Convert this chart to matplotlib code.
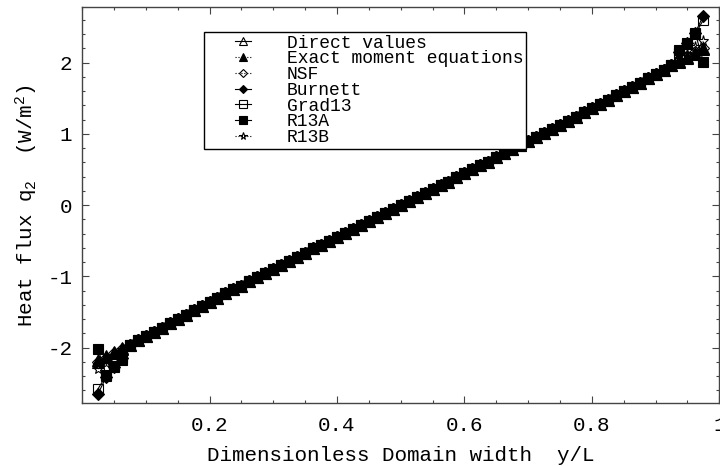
import matplotlib
matplotlib.use("Agg")
import matplotlib.pyplot as plt
from matplotlib.lines import Line2D
from matplotlib.legend_handler import HandlerLine2D
from matplotlib.ticker import MultipleLocator

plt.rcParams['font.family'] = ['Liberation Mono', 'DejaVu Sans Mono']
plt.rcParams['axes.unicode_minus'] = False

# grid points across the channel (y/L)
x = [0.025 + 0.0125 * k for k in range(77)]

# heat flux in the bulk of the channel
q_bulk = [-2.21, -2.15, -2.08, -2.02, -1.96, -1.90, -1.84, -1.78, -1.72, -1.66,
          -1.60, -1.54, -1.48, -1.42, -1.36, -1.30, -1.24, -1.18, -1.13, -1.07,
          -1.01, -0.95, -0.90, -0.84, -0.78, -0.73, -0.67, -0.61, -0.56, -0.50,
          -0.45, -0.39, -0.33, -0.28, -0.22, -0.17, -0.11, -0.06, 0.00, 0.06,
          0.11, 0.17, 0.22, 0.28, 0.33, 0.39, 0.45, 0.50, 0.56, 0.61,
          0.67, 0.73, 0.78, 0.84, 0.90, 0.95, 1.01, 1.07, 1.13, 1.18,
          1.24, 1.30, 1.36, 1.42, 1.48, 1.54, 1.60, 1.66, 1.72, 1.78,
          1.84, 1.90, 1.96, 2.02, 2.08, 2.15, 2.21]

# values at the four points next to each wall (left wall, right wall)
direct_left, direct_right = [-2.20, -2.14, -2.08, -2.02], [2.02, 2.08, 2.14, 2.20]
exact_left, exact_right = [-2.17, -2.12, -2.06, -2.01], [2.01, 2.06, 2.12, 2.19]
nsf_left, nsf_right = [-2.21, -2.15, -2.08, -2.02], [2.02, 2.08, 2.15, 2.21]
burnett_left, burnett_right = [-2.65, -2.42, -2.27, -2.15], [2.15, 2.27, 2.42, 2.66]
grad13_left, grad13_right = [-2.58, -2.40, -2.26, -2.14], [2.14, 2.26, 2.40, 2.60]
r13a_left, r13a_right = [-2.02, -2.38, -2.27, -2.17], [2.17, 2.27, 2.41, 2.01]
r13b_left, r13b_right = [-2.30, -2.22, -2.12, -2.04], [2.04, 2.12, 2.22, 2.30]

labels = ["Direct values", "Exact moment equations", "NSF", "Burnett",
          "Grad13", "R13A", "R13B"]


def profile(left, right):
    return left + q_bulk[4:-4] + right


series = [
    (profile(direct_left, direct_right), '^', 'none', '-', 8.5),
    (profile(exact_left, exact_right), '^', 'k', ':', 8.5),
    (profile(nsf_left, nsf_right), 'D', 'none', ':', 6.0),
    (profile(burnett_left, burnett_right), 'D', 'k', '-', 6.0),
    (profile(grad13_left, grad13_right), 's', 'none', '-', 7.5),
    (profile(r13a_left, r13a_right), 's', 'k', '-', 7.5),
    (profile(r13b_left, r13b_right), '*', 'none', ':', 8.0),
]

fig = plt.figure(figsize=(7.2, 4.66), dpi=100)
ax = fig.add_axes([0.114, 0.135, 0.885, 0.85])

for (q, m, fc, ls, ms), lab in zip(series, labels):
    ax.plot(x, q, linestyle=ls, color='k', linewidth=0.8, marker=m,
            markersize=ms, markerfacecolor=fc, markeredgecolor='k',
            markeredgewidth=0.8, label=lab)

ax.set_xlim(0, 1)
ax.set_ylim(-2.78, 2.78)
ax.xaxis.set_major_locator(MultipleLocator(0.2))
ax.xaxis.set_minor_locator(MultipleLocator(0.05))
ax.yaxis.set_major_locator(MultipleLocator(1))
ax.yaxis.set_minor_locator(MultipleLocator(0.2))
ax.set_xticks([0.2, 0.4, 0.6, 0.8, 1.0])
ax.set_xticklabels(["0.2", "0.4", "0.6", "0.8", "1"])
ax.tick_params(which='both', direction='in', top=True, right=True,
               labelsize=15, width=0.8, color='#444444')
ax.tick_params(which='major', length=5)
ax.tick_params(which='minor', length=2.5)
ax.tick_params(axis='x', which='major', pad=9)
ax.tick_params(axis='y', which='major', pad=7)
for s in ax.spines.values():
    s.set_linewidth(1.0)
    s.set_color('#444444')

ax.set_xlabel("Dimensionless Domain width  y/L", fontsize=15, labelpad=8)
ax.set_ylabel(r"Heat flux $\mathregular{q_2}$  (W/m$\mathregular{^2}$)",
              fontsize=15, labelpad=5)

leg = ax.legend(loc='upper left', bbox_to_anchor=(0.191, 0.937),
                borderaxespad=0, fontsize=13, frameon=True, fancybox=False,
                edgecolor='k', framealpha=1, borderpad=0.15,
                handlelength=2.44, handletextpad=2.0, labelspacing=-0.07,
                markerscale=0.7,
                handler_map={Line2D: HandlerLine2D(xpad=1.56)})
leg.get_frame().set_linewidth(1.0)

fig.savefig("out.png", dpi=100)
